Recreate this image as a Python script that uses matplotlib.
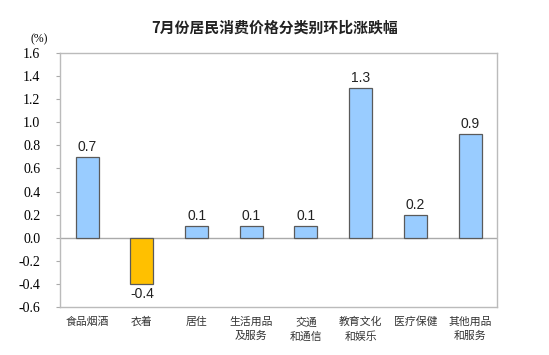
import matplotlib.pyplot as plt
import numpy as np

plt.rcParams['font.family'] = ['Noto Sans CJK SC', 'DejaVu Sans']

categories = ['食品烟酒', '衣着', '居住', '生活用品\n及服务', '交通\n和通信',
              '教育文化\n和娱乐', '医疗保健', '其他用品\n和服务']
values = [0.7, -0.4, 0.1, 0.1, 0.1, 1.3, 0.2, 0.9]
yticks = [-0.6, -0.4, -0.2, 0.0, 0.2, 0.4, 0.6, 0.8, 1.0, 1.2, 1.4, 1.6]

fig = plt.figure(figsize=(5.49, 3.55), dpi=100)
ax = fig.add_axes([0.109, 0.135, 0.797, 0.716])

x = np.arange(len(categories))
colors = ['#FFC000' if v < 0 else '#99CCFF' for v in values]
ax.bar(x, values, width=0.42, color=colors, edgecolor='#5a5a5a', linewidth=0.9, zorder=3)

# value labels
for xi, v in zip(x, values):
    off = 0.025 if v >= 0 else -0.03
    ax.text(xi, v + off, f'{v:.1f}', ha='center', va='bottom' if v >= 0 else 'top',
            fontsize=10, family='Liberation Sans', color='#222222')

ax.axhline(0, color='#AAAAAA', linewidth=1.0, zorder=2)

ax.set_xlim(-0.5, len(categories) - 0.5)
ax.set_ylim(-0.6, 1.6)
ax.set_yticks(yticks)
ax.set_yticklabels([f'{t:.1f}' for t in yticks], family='Liberation Serif', fontsize=10)
ax.tick_params(axis='y', direction='out', length=3, color='#AAAAAA', pad=11)
ax.set_xticks(x)
ax.set_xticklabels(categories, fontsize=7.8, color='#333333', linespacing=1.5, va='top')
ax.tick_params(axis='x', length=0, pad=7)

for s in ax.spines.values():
    s.set_color('#BBBBBB')
    s.set_linewidth(1.0)

fig.text(0.071, 0.89, '(%)', family='Liberation Serif', fontsize=8.5, ha='center', va='center')
fig.text(0.50, 0.921, '7月份居民消费价格分类别环比涨跌幅', fontsize=10.7, ha='center',
         va='center', fontweight='bold', color='#222222')

fig.savefig('out.png', dpi=100)
